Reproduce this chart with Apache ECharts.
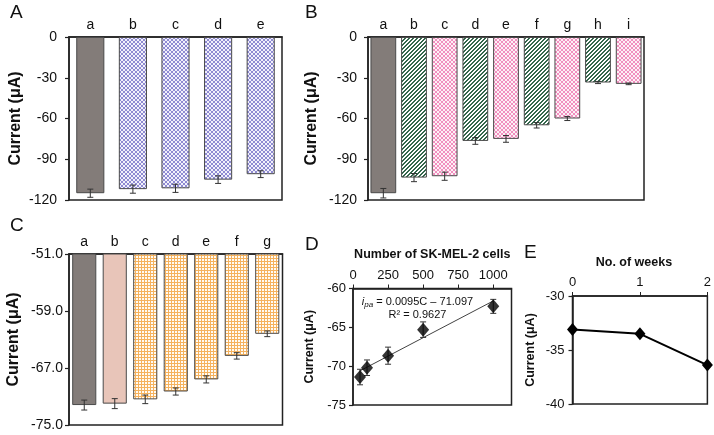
<!DOCTYPE html>
<html><head><meta charset="utf-8">
<script src="https://cdn.jsdelivr.net/npm/echarts@6/dist/echarts.min.js"></script>
<style>html,body{margin:0;padding:0;background:#fff}#c{width:714px;height:435px}</style>
</head><body><div id="c"></div>
<script>
// ---- data ----
const catsA = ['a','b','c','d','e'];
const valsA = [-115, -112, -111.4, -105, -101];
const errA  = [3, 3, 3, 2.8, 2.5];
const fillA = ['gray','blue','blue','blue','blue'];

const catsB = ['a','b','c','d','e','f','g','h','i'];
const valsB = [-115, -103.5, -102.5, -76.5, -75, -65, -60, -33.5, -34.5];
const errB  = [3.5, 3, 3, 2.5, 2.5, 2, 1.5, 0.8, 0.6];
const fillB = ['gray','green','pink','green','pink','green','pink','green','pink'];

const catsC = ['a','b','c','d','e','f','g'];
const valsC = [-72.2, -72.0, -71.4, -70.3, -68.6, -65.3, -62.2];
const errC  = [0.7, 0.7, 0.6, 0.5, 0.5, 0.45, 0.4];
const fillC = ['gray','salmon','orange','orange','orange','orange','orange'];
const ticksC = [-75, -67, -59, -51];

const cellsD = [50, 100, 250, 500, 1000];
const valsD  = [-71.4, -70.2, -68.65, -65.3, -62.3];
const errD   = [1.0, 1.0, 1.1, 1.0, 0.9];
const trendX = [50, 1000];
const trendY = [-70.6, -61.6];
const ticksDx = [0, 250, 500, 750, 1000];

const weeksE = [0, 1, 2];
const valsE  = [-33.1, -33.5, -36.4];

// ---- patterns ----
function pat(size, draw){
  const c = document.createElement('canvas'); c.width = size; c.height = size;
  const g = c.getContext('2d'); draw(g); return {image: c, repeat: 'repeat'};
}
function crossPat(fg, bg){
  return pat(4, g => { g.fillStyle = bg; g.fillRect(0,0,4,4); g.fillStyle = fg;
    for (let i=0;i<4;i++){ g.fillRect(i,i,1,1); g.fillRect(3-i,i,1,1); } });
}
const fills = {
  gray: '#837c79',
  salmon: '#e8c5b9',
  blue: crossPat('#8f8bd2', '#f2f1fb'),
  pink: crossPat('#f190bf', '#fdf0f6'),
  green: pat(4, g => { g.fillStyle = '#ffffff'; g.fillRect(0,0,4,4); g.fillStyle = '#34674c';
    for (let x=0;x<4;x++) for (let y=0;y<4;y++){ const k=(x+y)%4; if (k===2||k===3) g.fillRect(x,y,1,1);} }),
  orange: pat(3, g => { g.fillStyle = '#fffbf4'; g.fillRect(0,0,3,3); g.fillStyle = '#f5b25e';
    g.fillRect(0,0,3,1); g.fillRect(0,0,1,3); })
};

const FONT = 'Liberation Sans, Arial, sans-serif';
const AXC = '#222';

function barData(vals, fl){
  return vals.map((v,i) => ({value: v, itemStyle: {color: fills[fl[i]], borderColor: '#4a4a4a', borderWidth: 1}}));
}
function errData(cats, vals, errs){ return vals.map((v,i) => [i, v, errs[i]]); }
function errRender(cap, col, lw){
  return function(params, api){
    const x = api.value(0), v = api.value(1), e = api.value(2);
    const t = api.coord([x, v + e]), b = api.coord([x, v - e]);
    const cx = t[0];
    const st = {stroke: col, lineWidth: lw};
    return {type: 'group', children: [
      {type:'line', shape:{x1:cx,y1:t[1],x2:cx,y2:b[1]}, style: st},
      {type:'line', shape:{x1:cx-cap,y1:t[1],x2:cx+cap,y2:t[1]}, style: st},
      {type:'line', shape:{x1:cx-cap,y1:b[1],x2:cx+cap,y2:b[1]}, style: st}
    ]};
  };
}

const grids = [
  {left: 69, top: 37, width: 213, height: 163},
  {left: 368, top: 37, width: 276, height: 163},
  {left: 69, top: 254, width: 213.5, height: 171},
  {left: 353, top: 288.5, width: 158.5, height: 116.5},
  {left: 572.5, top: 296, width: 135, height: 108}
].map(g => Object.assign(g, {show: true, borderColor: AXC, borderWidth: 1.5, backgroundColor: 'transparent', containLabel: false}));

function catX(gi, cats, margin){
  return {type: 'category', gridIndex: gi, data: cats, position: 'top',
    axisLine: {show: true, lineStyle: {color: AXC, width: 1.5}}, axisTick: {show: false},
    axisLabel: {color: '#111', fontSize: 14, fontFamily: FONT, margin: margin}};
}
function valY(gi, o){
  return Object.assign({type: 'value', gridIndex: gi, splitLine: {show: false},
    axisLine: {show: true, lineStyle: {color: AXC, width: 1.5}},
    axisTick: {show: true, inside: false, length: 4, lineStyle: {color: AXC, width: 1.2}},
    name: 'Current (μA)', nameLocation: 'middle', nameRotate: 90,
    nameTextStyle: {fontWeight: 'bold', fontSize: 16, color: '#111', fontFamily: FONT}}, o);
}

const option = {
  animation: false,
  backgroundColor: '#fff',
  grid: grids,
  xAxis: [
    catX(0, catsA, 5),
    catX(1, catsB, 5),
    catX(2, catsC, 5),
    {type: 'value', gridIndex: 3, position: 'top', min: 0, max: 1130,
      splitLine: {show: false},
      axisLine: {show: true, lineStyle: {color: AXC, width: 1.5}},
      axisTick: {show: true, length: 4, customValues: ticksDx, lineStyle: {color: AXC}},
      axisLabel: {customValues: ticksDx, fontSize: 13, color: '#111', fontFamily: FONT, margin: 7,
        formatter: v => String(v)},
      name: 'Number of SK-MEL-2 cells', nameLocation: 'middle', nameGap: 27,
      nameTextStyle: {fontWeight: 'bold', fontSize: 12.5, color: '#111', fontFamily: FONT}},
    {type: 'value', gridIndex: 4, position: 'top', min: 0, max: 2, interval: 1,
      splitLine: {show: false},
      axisLine: {show: true, lineStyle: {color: AXC, width: 1.5}},
      axisTick: {show: true, length: 4, lineStyle: {color: AXC}},
      axisLabel: {fontSize: 13, color: '#111', fontFamily: FONT, margin: 7.5},
      name: 'No. of weeks', nameLocation: 'middle', nameGap: 27,
      nameTextStyle: {fontWeight: 'bold', fontSize: 12.5, color: '#111', fontFamily: FONT, padding: [0, 12, 0, 0]}}
  ],
  yAxis: [
    valY(0, {min: -120, max: 0, interval: 30, nameGap: 45,
      axisLabel: {fontSize: 14, color: '#111', fontFamily: FONT, margin: 12}}),
    valY(1, {min: -120, max: 0, interval: 30, nameGap: 48,
      axisLabel: {fontSize: 14, color: '#111', fontFamily: FONT, margin: 11}}),
    valY(2, {min: -75, max: -51, nameGap: 47,
      axisTick: {show: true, length: 4, customValues: ticksC, lineStyle: {color: AXC, width: 1.2}},
      axisLabel: {customValues: ticksC, fontSize: 14, color: '#111', fontFamily: FONT, margin: 6,
        formatter: v => v.toFixed(1)}}),
    valY(3, {min: -75, max: -60, interval: 5, nameGap: 37,
      nameTextStyle: {fontWeight: 'bold', fontSize: 12.5, color: '#111', fontFamily: FONT},
      axisLabel: {fontSize: 13, color: '#111', fontFamily: FONT, margin: 7}}),
    valY(4, {min: -40, max: -30, interval: 5, nameGap: 35,
      nameTextStyle: {fontWeight: 'bold', fontSize: 12.5, color: '#111', fontFamily: FONT},
      axisLabel: {fontSize: 13, color: '#111', fontFamily: FONT, margin: 8}})
  ],
  series: [
    {type: 'bar', xAxisIndex: 0, yAxisIndex: 0, data: barData(valsA, fillA), barCategoryGap: '34%'},
    {type: 'custom', xAxisIndex: 0, yAxisIndex: 0, data: errData(catsA, valsA, errA), renderItem: errRender(3, '#333', 1), z: 5, encode: {x: 0, y: 1}},
    {type: 'bar', xAxisIndex: 1, yAxisIndex: 1, data: barData(valsB, fillB), barCategoryGap: '16%'},
    {type: 'custom', xAxisIndex: 1, yAxisIndex: 1, data: errData(catsB, valsB, errB), renderItem: errRender(3, '#333', 1), z: 5, encode: {x: 0, y: 1}},
    {type: 'bar', xAxisIndex: 2, yAxisIndex: 2, data: barData(valsC, fillC), barCategoryGap: '21%', clip: true, startValue: -51},
    {type: 'custom', xAxisIndex: 2, yAxisIndex: 2, data: errData(catsC, valsC, errC), renderItem: errRender(3, '#333', 1), z: 5, encode: {x: 0, y: 1}},
    {type: 'line', xAxisIndex: 3, yAxisIndex: 3, data: trendX.map((x,i) => [x, trendY[i]]), symbol: 'none',
      lineStyle: {color: '#111', width: 0.8}, z: 2},
    {type: 'custom', xAxisIndex: 3, yAxisIndex: 3, data: cellsD.map((c,i) => [c, valsD[i], errD[i]]), renderItem: errRender(3, '#333', 1), z: 3, encode: {x: 0, y: 1}},
    {type: 'scatter', xAxisIndex: 3, yAxisIndex: 3, data: cellsD.map((c,i) => [c, valsD[i]]), symbol: 'diamond', symbolSize: [12, 14],
      itemStyle: {color: '#000'}, z: 4},
    {type: 'line', xAxisIndex: 4, yAxisIndex: 4, data: weeksE.map((w,i) => [w, valsE[i]]), symbol: 'diamond', symbolSize: [11, 13],
      itemStyle: {color: '#000'}, lineStyle: {color: '#000', width: 2}}
  ],
  graphic: [
    {type: 'text', left: 10, top: 3, style: {text: 'A', fontSize: 19, fontFamily: FONT, fill: '#111'}},
    {type: 'text', left: 305, top: 3, style: {text: 'B', fontSize: 19, fontFamily: FONT, fill: '#111'}},
    {type: 'text', left: 10, top: 216, style: {text: 'C', fontSize: 19, fontFamily: FONT, fill: '#111'}},
    {type: 'text', left: 305, top: 235, style: {text: 'D', fontSize: 19, fontFamily: FONT, fill: '#111'}},
    {type: 'text', left: 524, top: 243, style: {text: 'E', fontSize: 19, fontFamily: FONT, fill: '#111'}},
    {type: 'text', x: 417.5, y: 302, style: {text: '{i|i}{s|pa} = 0.0095C – 71.097', align: 'center', verticalAlign: 'middle',
      fontSize: 11, fontFamily: FONT, fill: '#111',
      rich: {i: {fontStyle: 'italic', fontSize: 11, fontFamily: FONT}, s: {fontStyle: 'italic', fontSize: 8, fontFamily: FONT, padding: [5, 0, 0, 0]}}}},
    {type: 'text', x: 417.5, y: 315, style: {text: 'R² = 0.9627', align: 'center', verticalAlign: 'middle', fontSize: 11, fontFamily: FONT, fill: '#111'}}
  ]
};
const chart = echarts.init(document.getElementById('c'), null, {renderer: 'canvas'});
chart.setOption(option);
</script></body></html>
